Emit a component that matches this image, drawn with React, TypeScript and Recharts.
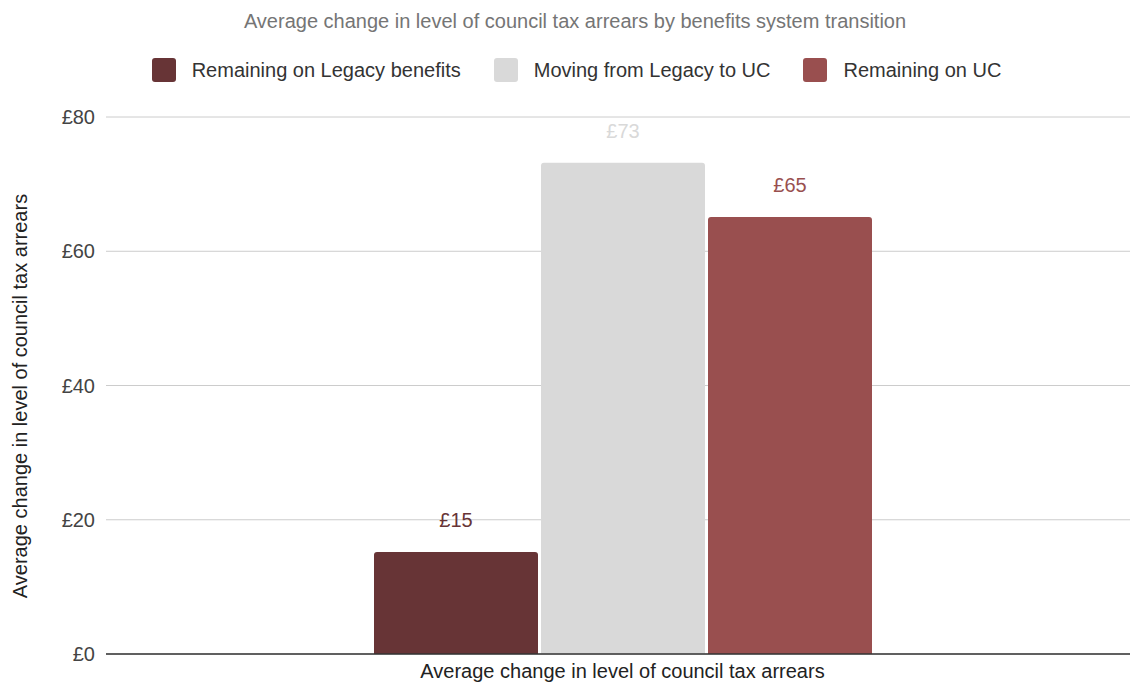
import React from 'react';
import { BarChart, Bar, XAxis, YAxis, CartesianGrid, LabelList, Label } from 'recharts';

const categories = ['Average change in level of council tax arrears'];
const seriesNames = ['Remaining on Legacy benefits', 'Moving from Legacy to UC', 'Remaining on UC'];
const legacyValues = [15.2];
const movingValues = [73.2];
const ucValues = [65.1];
const yTicks = [0, 20, 40, 60, 80];
const colors = ['#673436', '#d9d9d9', '#994f4f'];

const title = 'Average change in level of council tax arrears by benefits system transition';
const yTitle = 'Average change in level of council tax arrears';

const data = categories.map((c, i) => ({
  category: c,
  legacy: legacyValues[i],
  moving: movingValues[i],
  uc: ucValues[i],
}));

const FONT = '"Liberation Sans", Arial, sans-serif';
const fmt = (v: any) => `£${Math.round(Number(v))}`;

const YTitle = (props: any) => {
  const cy = 396;
  return (
    <text x={20} y={cy} transform={`rotate(-90, 20, ${cy})`} textAnchor="middle" dominantBaseline="central"
      fontSize={20} fill="#222" fontFamily={FONT}>{yTitle}</text>
  );
};

export default function App() {
  const keys = ['legacy', 'moving', 'uc'];
  return (
    <div style={{ position: 'absolute', left: 0, top: 0, width: 1131, height: 682, background: '#fff', fontFamily: FONT }}>
      <div style={{ position: 'absolute', left: 0, top: 9, width: 1150, textAlign: 'center', fontSize: 20, lineHeight: '24px', color: '#757575' }}>
        {title}
      </div>
      <div style={{ position: 'absolute', left: 0, top: 58, width: 1153, display: 'flex', justifyContent: 'center', gap: 33 }}>
        {seriesNames.map((n, i) => (
          <div key={n} style={{ display: 'flex', alignItems: 'center', height: 24 }}>
            <div style={{ width: 24, height: 24, borderRadius: 3, background: colors[i], marginRight: 16 }} />
            <span style={{ fontSize: 20, color: '#333' }}>{n}</span>
          </div>
        ))}
      </div>
      <BarChart width={1131} height={682} data={data} margin={{ top: 117, right: 1, bottom: 0, left: 0 }}
        barGap={3} style={{ fontFamily: FONT }}>
        <CartesianGrid vertical={false} stroke="#cccccc" />
        <XAxis dataKey="category" height={28} tickLine={false} axisLine={{ stroke: '#333', strokeWidth: 1.5 }}
          tick={{ fontSize: 20, fill: '#222' }} tickMargin={4} padding={{ left: 9, right: 0 }} />
        <YAxis width={106} domain={[0, 80]} ticks={yTicks} axisLine={false} tickLine={false}
          tick={{ fontSize: 20, fill: '#444' }} tickMargin={5} tickFormatter={fmt}>
          <Label content={<YTitle />} />
        </YAxis>
        {keys.map((k, i) => (
          <Bar key={k} dataKey={k} name={seriesNames[i]} fill={colors[i]} barSize={164} radius={[3, 3, 0, 0]} isAnimationActive={false}>
            <LabelList dataKey={k} position="top" offset={25} formatter={fmt} fill={colors[i]} fontSize={20} fontFamily={FONT} />
          </Bar>
        ))}
      </BarChart>
    </div>
  );
}
